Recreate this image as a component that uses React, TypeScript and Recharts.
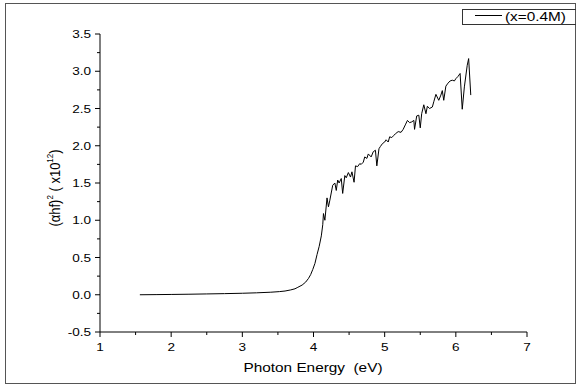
import { LineChart, Line, XAxis, YAxis } from "recharts";

// photon energy (eV) and (αhf)² (x10¹²)
const energy = [
    1.56, 1.8, 2.0, 2.25, 2.5, 2.75, 3.0, 3.2, 3.4, 3.52, 3.6, 3.68, 3.74, 3.78, 3.84, 3.89, 3.93, 3.96, 3.99,
    4.02, 4.05, 4.08, 4.11, 4.13, 4.14, 4.16, 4.19, 4.21, 4.23, 4.27, 4.30, 4.32, 4.34, 4.36, 4.39, 4.41, 4.44,
    4.46, 4.49, 4.52, 4.54, 4.57, 4.59, 4.62, 4.65, 4.67, 4.70, 4.72, 4.75, 4.77, 4.81, 4.84, 4.87, 4.89, 4.92,
    4.94, 4.97, 5.00, 5.02, 5.05, 5.07, 5.10, 5.13, 5.15, 5.19, 5.23, 5.26, 5.29, 5.32, 5.35, 5.38, 5.41, 5.42,
    5.45, 5.48, 5.50, 5.52, 5.55, 5.58, 5.60, 5.63, 5.67, 5.69, 5.72, 5.76, 5.79, 5.81, 5.83, 5.86, 5.89, 5.92,
    5.95, 5.98, 6.00, 6.03, 6.06, 6.09, 6.12, 6.16, 6.18, 6.21,
];
const absorb = [
    0.0, 0.002, 0.004, 0.007, 0.011, 0.015, 0.02, 0.026, 0.034, 0.042, 0.05, 0.065, 0.08, 0.10, 0.13, 0.17, 0.22, 0.27, 0.34,
    0.42, 0.54, 0.65, 0.79, 0.94, 1.09, 1.00, 1.30, 1.18, 1.27, 1.47, 1.50, 1.40, 1.54, 1.50, 1.56, 1.36, 1.60,
    1.57, 1.64, 1.58, 1.65, 1.51, 1.73, 1.72, 1.76, 1.75, 1.78, 1.85, 1.83, 1.89, 1.85, 1.92, 1.94, 1.73, 1.96,
    1.99, 2.03, 2.05, 2.08, 2.05, 2.12, 2.11, 2.14, 2.16, 2.19, 2.18, 2.22, 2.28, 2.34, 2.31, 2.32, 2.34, 2.22,
    2.40, 2.41, 2.24, 2.43, 2.55, 2.43, 2.53, 2.50, 2.52, 2.59, 2.69, 2.61, 2.68, 2.74, 2.61, 2.80, 2.84, 2.87,
    2.88, 2.87, 2.90, 2.93, 2.97, 2.49, 2.79, 3.08, 3.17, 2.68,
];

const xTicks = [1, 1.5, 2, 2.5, 3, 3.5, 4, 4.5, 5, 5.5, 6, 6.5, 7];
const yTicks = [-0.5, -0.25, 0, 0.25, 0.5, 0.75, 1, 1.25, 1.5, 1.75, 2, 2.25, 2.5, 2.75, 3, 3.25, 3.5];

const data = energy.map((e, i) => ({ e, v: absorb[i] }));

const font = "'Liberation Sans', Arial, sans-serif";
const stretch = 1.18;

function YTick({ x, y, payload }: any) {
    const v = payload.value;
    const major = Math.abs(v * 2 - Math.round(v * 2)) < 1e-6;
    return (
        <g>
            <line x1={x} x2={x - (major ? 5 : 3)} y1={y} y2={y} stroke="#000" />
            {major && (
                <text transform={`translate(${x - 9},${y + 4}) scale(${stretch},1)`} textAnchor="end"
                    fontSize={11.5} fontFamily={font} fill="#000">
                    {v.toFixed(1)}
                </text>
            )}
        </g>
    );
}

function XTick({ x, y, payload }: any) {
    const v = payload.value;
    const major = Number.isInteger(v);
    return (
        <g>
            <line x1={x} x2={x} y1={y} y2={y + (major ? 5 : 3)} stroke="#000" />
            {major && (
                <text transform={`translate(${x},${y + 19}) scale(${stretch},1)`} textAnchor="middle"
                    fontSize={11.5} fontFamily={font} fill="#000">
                    {v}
                </text>
            )}
        </g>
    );
}

export default function App() {
    return (
        <div style={{ position: "absolute", left: 0, top: 0, width: 576, height: 386, background: "#fff", overflow: "hidden", fontFamily: font }}>
            {/* outer frame */}
            <div style={{ position: "absolute", left: 5, top: 3, width: 569, height: 379, border: "1.5px solid #555" }} />

            <LineChart width={576} height={386} data={data} margin={{ top: 34, right: 49, left: 0, bottom: 0 }}
                style={{ position: "absolute", left: 0, top: 0 }}>
                <XAxis dataKey="e" type="number" domain={[1, 7]} ticks={xTicks} interval={0} height={54}
                    axisLine={{ stroke: "#000" }} tickLine={false} tickSize={0} tickMargin={0} tick={<XTick />} />
                <YAxis type="number" domain={[-0.5, 3.5]} ticks={yTicks} interval={0} width={100}
                    axisLine={{ stroke: "#000" }} tickLine={false} tickSize={0} tickMargin={0} tick={<YTick />} />
                <Line type="linear" dataKey="v" stroke="#000" strokeWidth={1} dot={false} isAnimationActive={false} />
            </LineChart>

            {/* axis titles */}
            <div style={{ position: "absolute", left: 313, top: 367, transform: `translate(-50%,-50%) scaleX(${stretch})`, fontSize: 13, whiteSpace: "pre", color: "#000" }}>
                Photon Energy  (eV)
            </div>
            <div style={{ position: "absolute", left: 54, top: 188, transform: `translate(-50%,-50%) scaleX(${stretch}) rotate(-90deg)`, fontSize: 13, whiteSpace: "pre", color: "#000", lineHeight: 1 }}>
                (αhf)<sup style={{ fontSize: 8 }}>2</sup> ( x10<sup style={{ fontSize: 8 }}>12</sup>)
            </div>

            {/* legend */}
            <div style={{ position: "absolute", left: 462, top: 9, width: 120, height: 14, border: "1px solid #333" }} />
            <div style={{ position: "absolute", left: 475, top: 15, width: 27, height: 1, background: "#000" }} />
            <div style={{ position: "absolute", left: 505, top: 16, transform: `translateY(-50%) scaleX(${stretch})`, transformOrigin: "left center", fontSize: 13, whiteSpace: "pre", color: "#000", lineHeight: 1 }}>
                (x=0.4M)
            </div>
        </div>
    );
}
